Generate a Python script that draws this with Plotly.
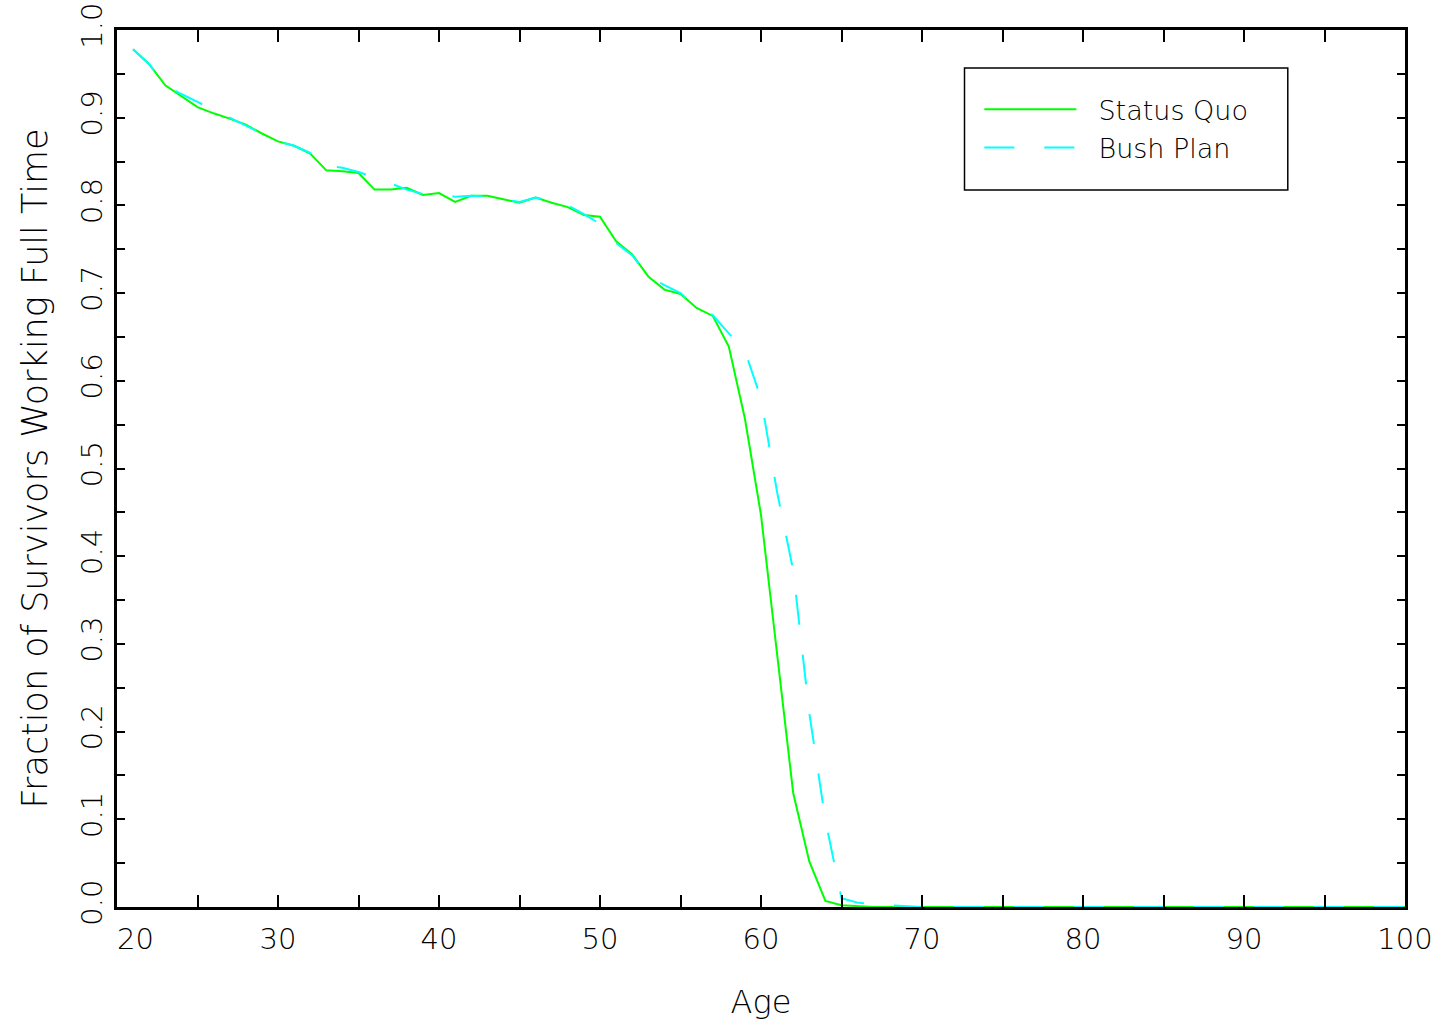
import plotly.graph_objects as go

ages = list(range(21, 101))

status_quo_head = [
    0.978, 0.961, 0.937, 0.925, 0.912, 0.905, 0.899, 0.892, 0.882, 0.873,  # 21-30
    0.868, 0.859, 0.840, 0.839, 0.837, 0.818, 0.818, 0.820, 0.812, 0.814,  # 31-40
    0.804, 0.811, 0.811, 0.807, 0.803, 0.809, 0.803, 0.798, 0.789, 0.787,  # 41-50
    0.759, 0.744, 0.719, 0.704, 0.699, 0.683, 0.674, 0.639, 0.557, 0.447,  # 51-60
    0.290, 0.130, 0.052, 0.007, 0.002, 0.001, 0.0, 0.0, 0.0, 0.0,          # 61-70
]
bush_plan_head = [
    0.978, 0.961, 0.937, 0.927, 0.918, 0.909, 0.900, 0.891, 0.882, 0.873,  # 21-30
    0.868, 0.860, 0.845, 0.843, 0.838, 0.832, 0.825, 0.818, 0.813, 0.812,  # 31-40
    0.810, 0.811, 0.810, 0.807, 0.804, 0.809, 0.805, 0.800, 0.790, 0.779,  # 41-50
    0.757, 0.743, 0.719, 0.709, 0.700, 0.684, 0.675, 0.654, 0.634, 0.580,  # 51-60
    0.473, 0.384, 0.221, 0.099, 0.010, 0.005, 0.003, 0.002, 0.001, 0.0,    # 61-70
]
status_quo = status_quo_head + [0.0] * 30   # 71-100
bush_plan = bush_plan_head + [0.0] * 30     # 71-100

x_tickvals = list(range(20, 101, 5))
x_ticktext = ["\u00a0\u00a0\u00a0\u00a020" if v == 20 else (str(v) if v % 10 == 0 else "") for v in x_tickvals]
y_tickvals = [i * 0.05 for i in range(21)]
y_ticktext = [f"{v:.1f}" if i % 2 == 0 else "" for i, v in enumerate(y_tickvals)]

FONT = "DejaVu Sans"
WEIGHT = 200

fig = go.Figure()
fig.add_trace(go.Scatter(x=ages, y=status_quo, mode="lines", name="\u00a0\u00a0Status Quo",
                         line=dict(color="#00ff00", width=2)))
fig.add_trace(go.Scatter(x=ages, y=bush_plan, mode="lines", name="\u00a0\u00a0Bush Plan",
                         line=dict(color="#00ffff", width=2, dash="30px,30px")))

# legend frame
fig.add_shape(type="rect", xref="paper", yref="paper",
              x0=0.658, x1=0.909, y0=0.8176, y1=0.9567,
              line=dict(color="black", width=1.5), fillcolor="white", layer="below")

fig.update_layout(
    width=1441, height=1027,
    margin=dict(l=117, r=36, t=30, b=120, autoexpand=False),
    paper_bgcolor="white", plot_bgcolor="white",
    font=dict(family=FONT, size=29, color="black", weight=WEIGHT),
    showlegend=True,
    legend=dict(x=0.6695, y=0.937, xanchor="left", yanchor="top",
                borderwidth=0, bgcolor="rgba(0,0,0,0)",
                font=dict(family=FONT, size=27, color="black", weight=WEIGHT),
                itemwidth=92, tracegroupgap=0),
    xaxis=dict(range=[20, 100], tickvals=x_tickvals, ticktext=x_ticktext,
               ticks="inside", ticklen=12, tickwidth=1.5, tickcolor="black",
               showline=True, linewidth=3, linecolor="black", mirror="ticks",
               showgrid=False, zeroline=False, automargin=False,
               ticklabelstandoff=4,
               title=dict(text="Age", standoff=36, font=dict(size=32)),
               tickfont=dict(size=29)),
    yaxis=dict(range=[0, 1], tickvals=y_tickvals, ticktext=y_ticktext,
               ticks="inside", ticklen=8, tickwidth=1.5, tickcolor="black",
               showline=True, linewidth=3, linecolor="black", mirror="ticks",
               showgrid=False, zeroline=False, tickangle=-90, automargin=False,
               title=dict(text="Fraction of Survivors Working Full Time", standoff=18,
                          font=dict(size=35)),
               tickfont=dict(size=29)),
)

fig.write_html("out.html")
